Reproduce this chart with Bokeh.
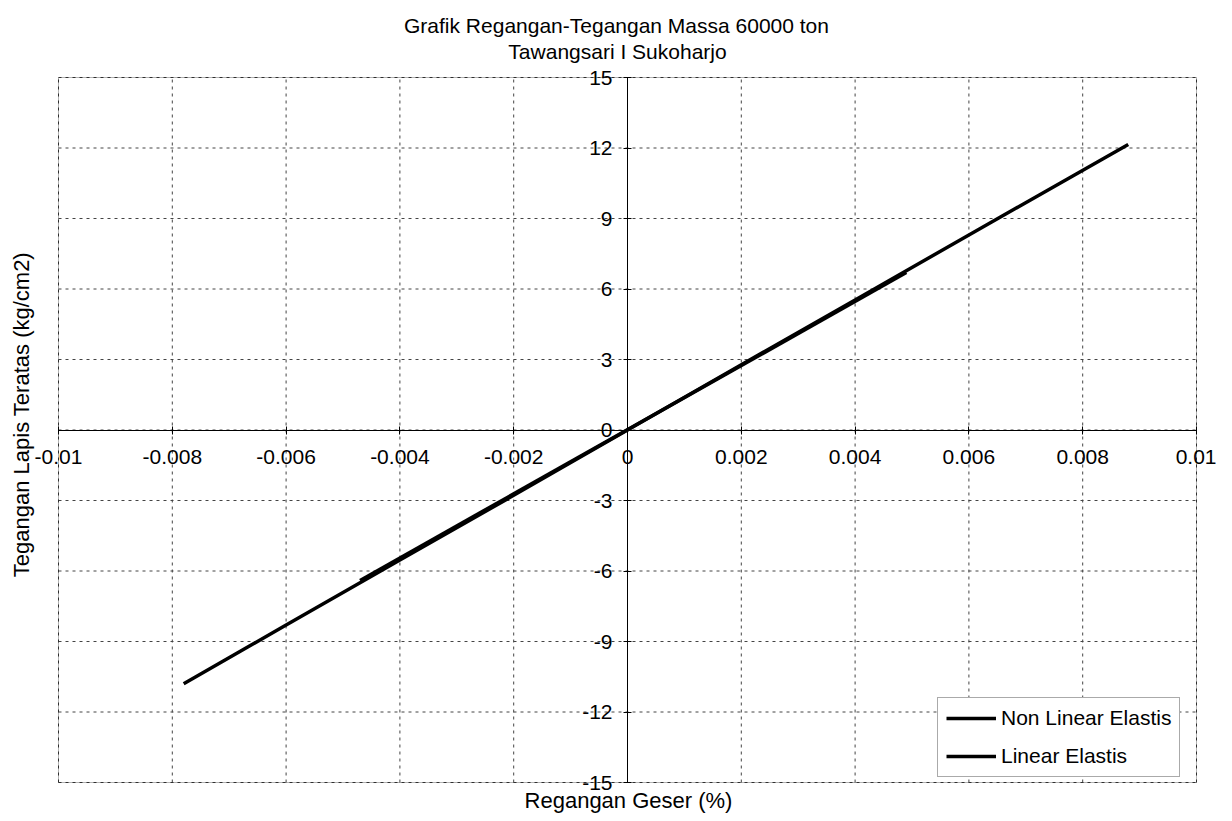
import math
from bokeh.plotting import figure
from bokeh.models import FixedTicker, Range1d, Legend, LegendItem, Label, BoxAnnotation
from bokeh.embed import file_html
from bokeh.resources import INLINE

# ---- data ----
strain_nonlinear = [-0.0078, -0.006, -0.004, -0.002, 0.0, 0.002, 0.004, 0.006, 0.0088]
stress_nonlinear = [-10.8, -8.3, -5.53, -2.78, 0.0, 2.78, 5.53, 8.3, 12.15]
strain_linear = [-0.0047, 0.0049]
stress_linear = [-6.4, 6.7]

x_ticks = [-0.01, -0.008, -0.006, -0.004, -0.002, 0.0, 0.002, 0.004, 0.006, 0.008, 0.01]
x_tick_labels = ["-0.01", "-0.008", "-0.006", "-0.004", "-0.002", "0",
                 "0.002", "0.004", "0.006", "0.008", "0.01"]
y_ticks = [-15, -12, -9, -6, -3, 0, 3, 6, 9, 12, 15]
y_tick_labels = ["-15", "-12", "-9", "-6", "-3", "0", "3", "6", "9", "12", "15"]

title_line1 = "Grafik Regangan-Tegangan Massa 60000 ton"
title_line2 = "Tawangsari I Sukoharjo"
x_label = "Regangan Geser (%)"
y_label = "Tegangan  Lapis Teratas (kg/cm2)"

FONT = "Liberation Sans"

# ---- layout (pixels) ----
W, H = 1216, 815
BOX_L, BOX_R, BOX_T, BOX_B = 58, 1196, 77, 782   # plot box edges on the canvas
x_lo, x_hi = x_ticks[0], x_ticks[-1]
y_lo, y_hi = y_ticks[0], y_ticks[-1]
kx = (x_hi - x_lo) / (BOX_R - BOX_L)
ky = (y_hi - y_lo) / (BOX_B - BOX_T)

p = figure(width=W, height=H, output_backend="svg", toolbar_location=None, title=None,
           x_range=Range1d(x_lo - BOX_L * kx, x_hi + (W - BOX_R) * kx),
           y_range=Range1d(y_lo - (H - BOX_B) * ky, y_hi + BOX_T * ky),
           min_border_left=0, min_border_right=0, min_border_top=0, min_border_bottom=0)
p.background_fill_color = "white"
p.border_fill_color = "white"
p.outline_line_color = None
p.grid.visible = False

# dashed grid inside the box
nx, ny = len(x_ticks), len(y_ticks)
p.segment(x0=x_ticks, y0=[y_lo] * nx, x1=x_ticks, y1=[y_hi] * nx,
          line_color="#444444", line_dash="3 4", line_width=1)
p.segment(x0=[x_lo] * ny, y0=y_ticks, x1=[x_hi] * ny, y1=y_ticks,
          line_color="#444444", line_dash="3 4", line_width=1)

# plot box
p.add_layout(BoxAnnotation(left=x_lo, right=x_hi, bottom=y_lo, top=y_hi,
                           fill_alpha=0, line_color="black", line_width=1))

# axes through the origin
for ax, ticks, labels, bnd in ((p.xaxis[0], x_ticks, x_tick_labels, (x_lo, x_hi)),
                               (p.yaxis[0], y_ticks, y_tick_labels, (y_lo, y_hi))):
    ax.fixed_location = 0
    ax.bounds = bnd
    ax.ticker = FixedTicker(ticks=ticks)
    ax.major_label_overrides = {t: l for t, l in zip(ticks, labels)}
    ax.major_label_text_font = FONT
    ax.major_label_text_font_size = "21px"
    ax.major_label_text_color = "black"
    ax.axis_line_color = "black"
    ax.axis_line_width = 1
    ax.major_tick_in = 4
    ax.major_tick_out = 4
    ax.major_tick_line_color = "black"
    ax.minor_tick_line_color = None
p.xaxis.major_label_standoff = 16
p.yaxis.major_label_standoff = 11

# data lines
r1 = p.line(strain_nonlinear, stress_nonlinear, line_color="black", line_width=3.5)
r2 = p.line(strain_linear, stress_linear, line_color="black", line_width=3.5)

# titles
def add_text(text, sx, sy, size, angle=0.0):
    p.add_layout(Label(x=sx, y=sy, x_units="screen", y_units="screen", text=text,
                       angle=angle, text_align="center", text_baseline="middle",
                       text_font=FONT, text_font_size=size, text_color="black"))

add_text(title_line1, 616, H - 25, "21px")
add_text(title_line2, 617, H - 51, "21px")
add_text(x_label, 628, H - 800, "22px")
add_text(y_label, 21, H - 411, "22px", angle=math.pi / 2)

legend = Legend(items=[LegendItem(label="Non Linear Elastis", renderers=[r1]),
                       LegendItem(label="Linear Elastis", renderers=[r2])],
                location=(937, H - 777), label_text_font=FONT, label_text_font_size="21px",
                label_text_color="black",
                glyph_width=50, glyph_height=22, label_height=22, label_standoff=5,
                spacing=14, padding=8, border_line_color="#555555", border_line_width=1,
                background_fill_alpha=1.0, margin=0)
p.add_layout(legend)

open("out.html", "w").write(file_html(p, INLINE))
